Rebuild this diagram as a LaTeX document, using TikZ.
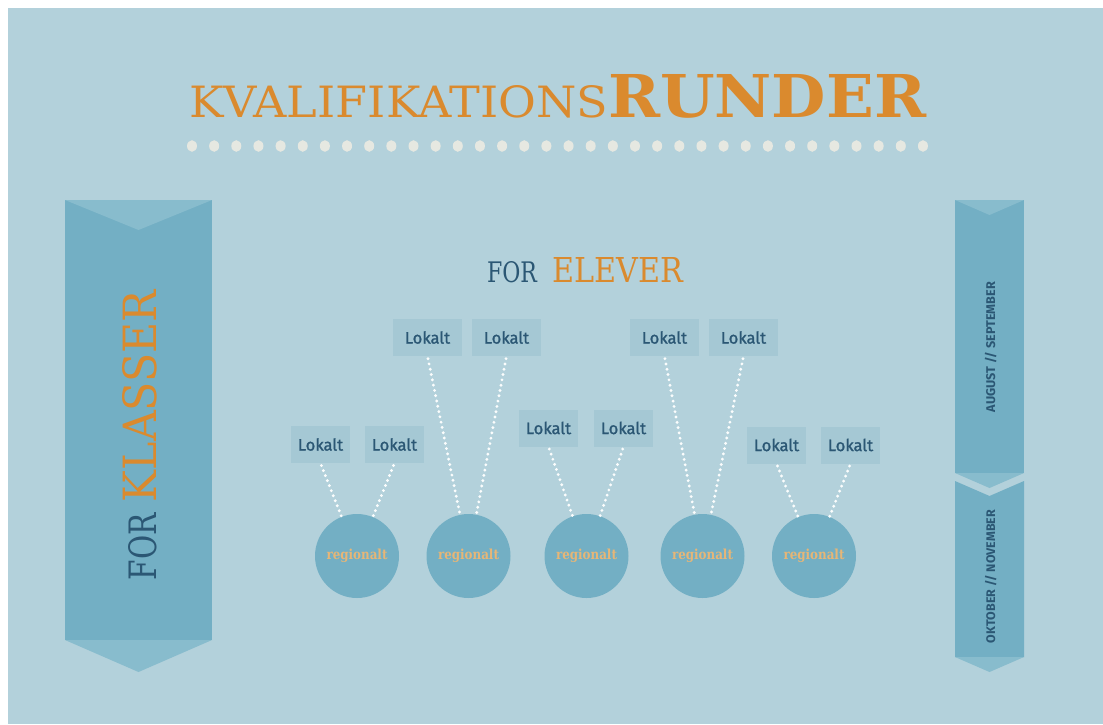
\documentclass[tikz,border=0pt]{standalone}
\usepackage{fontspec}
\usepackage{graphicx}
\newfontfamily\slabfont{DejaVu Serif}
\newfontfamily\labfont{Fira Sans}
\newfontfamily\lokfont{Fira Sans}[FakeBold=1.2]
\definecolor{bg}{HTML}{B3D1DB}
\definecolor{banner}{HTML}{73AFC4}
\definecolor{tipc}{HTML}{88BCCD}
\definecolor{boxc}{HTML}{A5C8D4}
\definecolor{dblue}{HTML}{2B5774}
\definecolor{orng}{HTML}{DA8A2E}
\definecolor{rtext}{HTML}{E6B677}
\definecolor{dotc}{HTML}{E6E8E1}
\tikzset{
  txt/.style={inner sep=0pt, outer sep=0pt},
  lokbox/.style={fill=boxc, minimum height=37pt, inner sep=0pt, text=dblue,
    font=\lokfont\fontsize{16.5}{17}\selectfont},
  lokwide/.style={lokbox, minimum width=69pt},
  loknarrow/.style={lokbox, minimum width=59pt},
  region/.style={circle, fill=banner, minimum size=84pt, inner sep=0pt, text=rtext},
  dotline/.style={draw=white!95!bg, line width=3.2pt, line cap=round, dash pattern=on 0pt off 5.4pt, shorten <=2.5pt}
}
\newcommand{\regtext}{\resizebox{61pt}{10.5pt}{\slabfont\bfseries regionalt}}
\begin{document}
\begin{tikzpicture}[x=1pt,y=-1pt]
\useasboundingbox (0,0) rectangle (1103,724);
\fill[white] (0,0) rectangle (1103,724);
\fill[bg] (8,8) rectangle (1103,724);

% title
\node[txt, anchor=base west, text=orng] (kval) at (189,117) {\resizebox{419pt}{32pt}{\slabfont KVALIFIKATIONS}};
\node[txt, anchor=base west, text=orng] (runder) at (608,117.5) {\resizebox{318pt}{43pt}{\slabfont\bfseries RUNDER}};
\foreach \i in {0,...,33} \fill[dotc] ({192+\i*22.15},146) ellipse (5pt and 5.8pt);

% left banner
\fill[banner] (65,200) rectangle (212,640);
\fill[tipc] (65,200) -- (212,200) -- (138.5,230) -- cycle;
\fill[tipc] (65,640) -- (212,640) -- (138.5,672) -- cycle;
\node[txt, rotate=90, anchor=base west, text=dblue] (fork) at (156,580) {\resizebox{67pt}{28pt}{\slabfont FOR}};
\node[txt, rotate=90, anchor=base west, text=orng] (klasser) at (156,502) {\resizebox{212pt}{34pt}{\slabfont KLASSER}};

% right banner
\fill[banner] (955,200) rectangle (1024,473);
\fill[tipc] (955,200) -- (1024,200) -- (989.5,215) -- cycle;
\fill[tipc] (955,473) -- (1024,473) -- (989.5,488) -- cycle;
\fill[banner] (955,481) -- (989.5,496) -- (1024,481) -- (1024,657) -- (955,657) -- cycle;
\fill[tipc] (955,657) -- (1024,657) -- (989.5,672) -- cycle;
\node[txt, rotate=90, anchor=base west, text=dblue] (aug) at (995,412) {\resizebox{130pt}{!}{\labfont\bfseries\fontsize{11}{11}\selectfont AUGUST // SEPTEMBER}};
\node[txt, rotate=90, anchor=base west, text=dblue] (okt) at (995,643) {\resizebox{133pt}{!}{\labfont\bfseries\fontsize{11}{11}\selectfont OKTOBER // NOVEMBER}};

% for elever
\node[txt, anchor=base west, text=dblue] (fore) at (487,282) {\resizebox{50pt}{21pt}{\slabfont FOR}};
\node[txt, anchor=base west, text=orng] (elever) at (552,282) {\resizebox{131pt}{25pt}{\slabfont ELEVER}};

% lokalt boxes
\node[loknarrow] (a1) at (320.5,444.5) {Lokalt};
\node[loknarrow] (a2) at (394.5,444.5) {Lokalt};
\node[lokwide] (b1) at (427.5,337.5) {Lokalt};
\node[lokwide] (b2) at (506.5,337.5) {Lokalt};
\node[loknarrow] (c1) at (548.5,428) {Lokalt};
\node[loknarrow] (c2) at (623.5,428) {Lokalt};
\node[lokwide] (d1) at (664.5,337.5) {Lokalt};
\node[lokwide] (d2) at (743.5,337.5) {Lokalt};
\node[loknarrow] (e1) at (776.5,445) {Lokalt};
\node[loknarrow] (e2) at (850.5,445) {Lokalt};

% regional circles
\node[region] (ra) at (357,556) {\regtext};
\node[region] (rb) at (468.5,556) {\regtext};
\node[region] (rc) at (586.5,556) {\regtext};
\node[region] (rd) at (702.5,556) {\regtext};
\node[region] (re) at (814,556) {\regtext};

% dotted connectors
\foreach \s/\t in {a1/ra,a2/ra,b1/rb,b2/rb,c1/rc,c2/rc,d1/rd,d2/rd,e1/re,e2/re}
  \draw[dotline] (\s.south) -- (\t);
\end{tikzpicture}
\end{document}
